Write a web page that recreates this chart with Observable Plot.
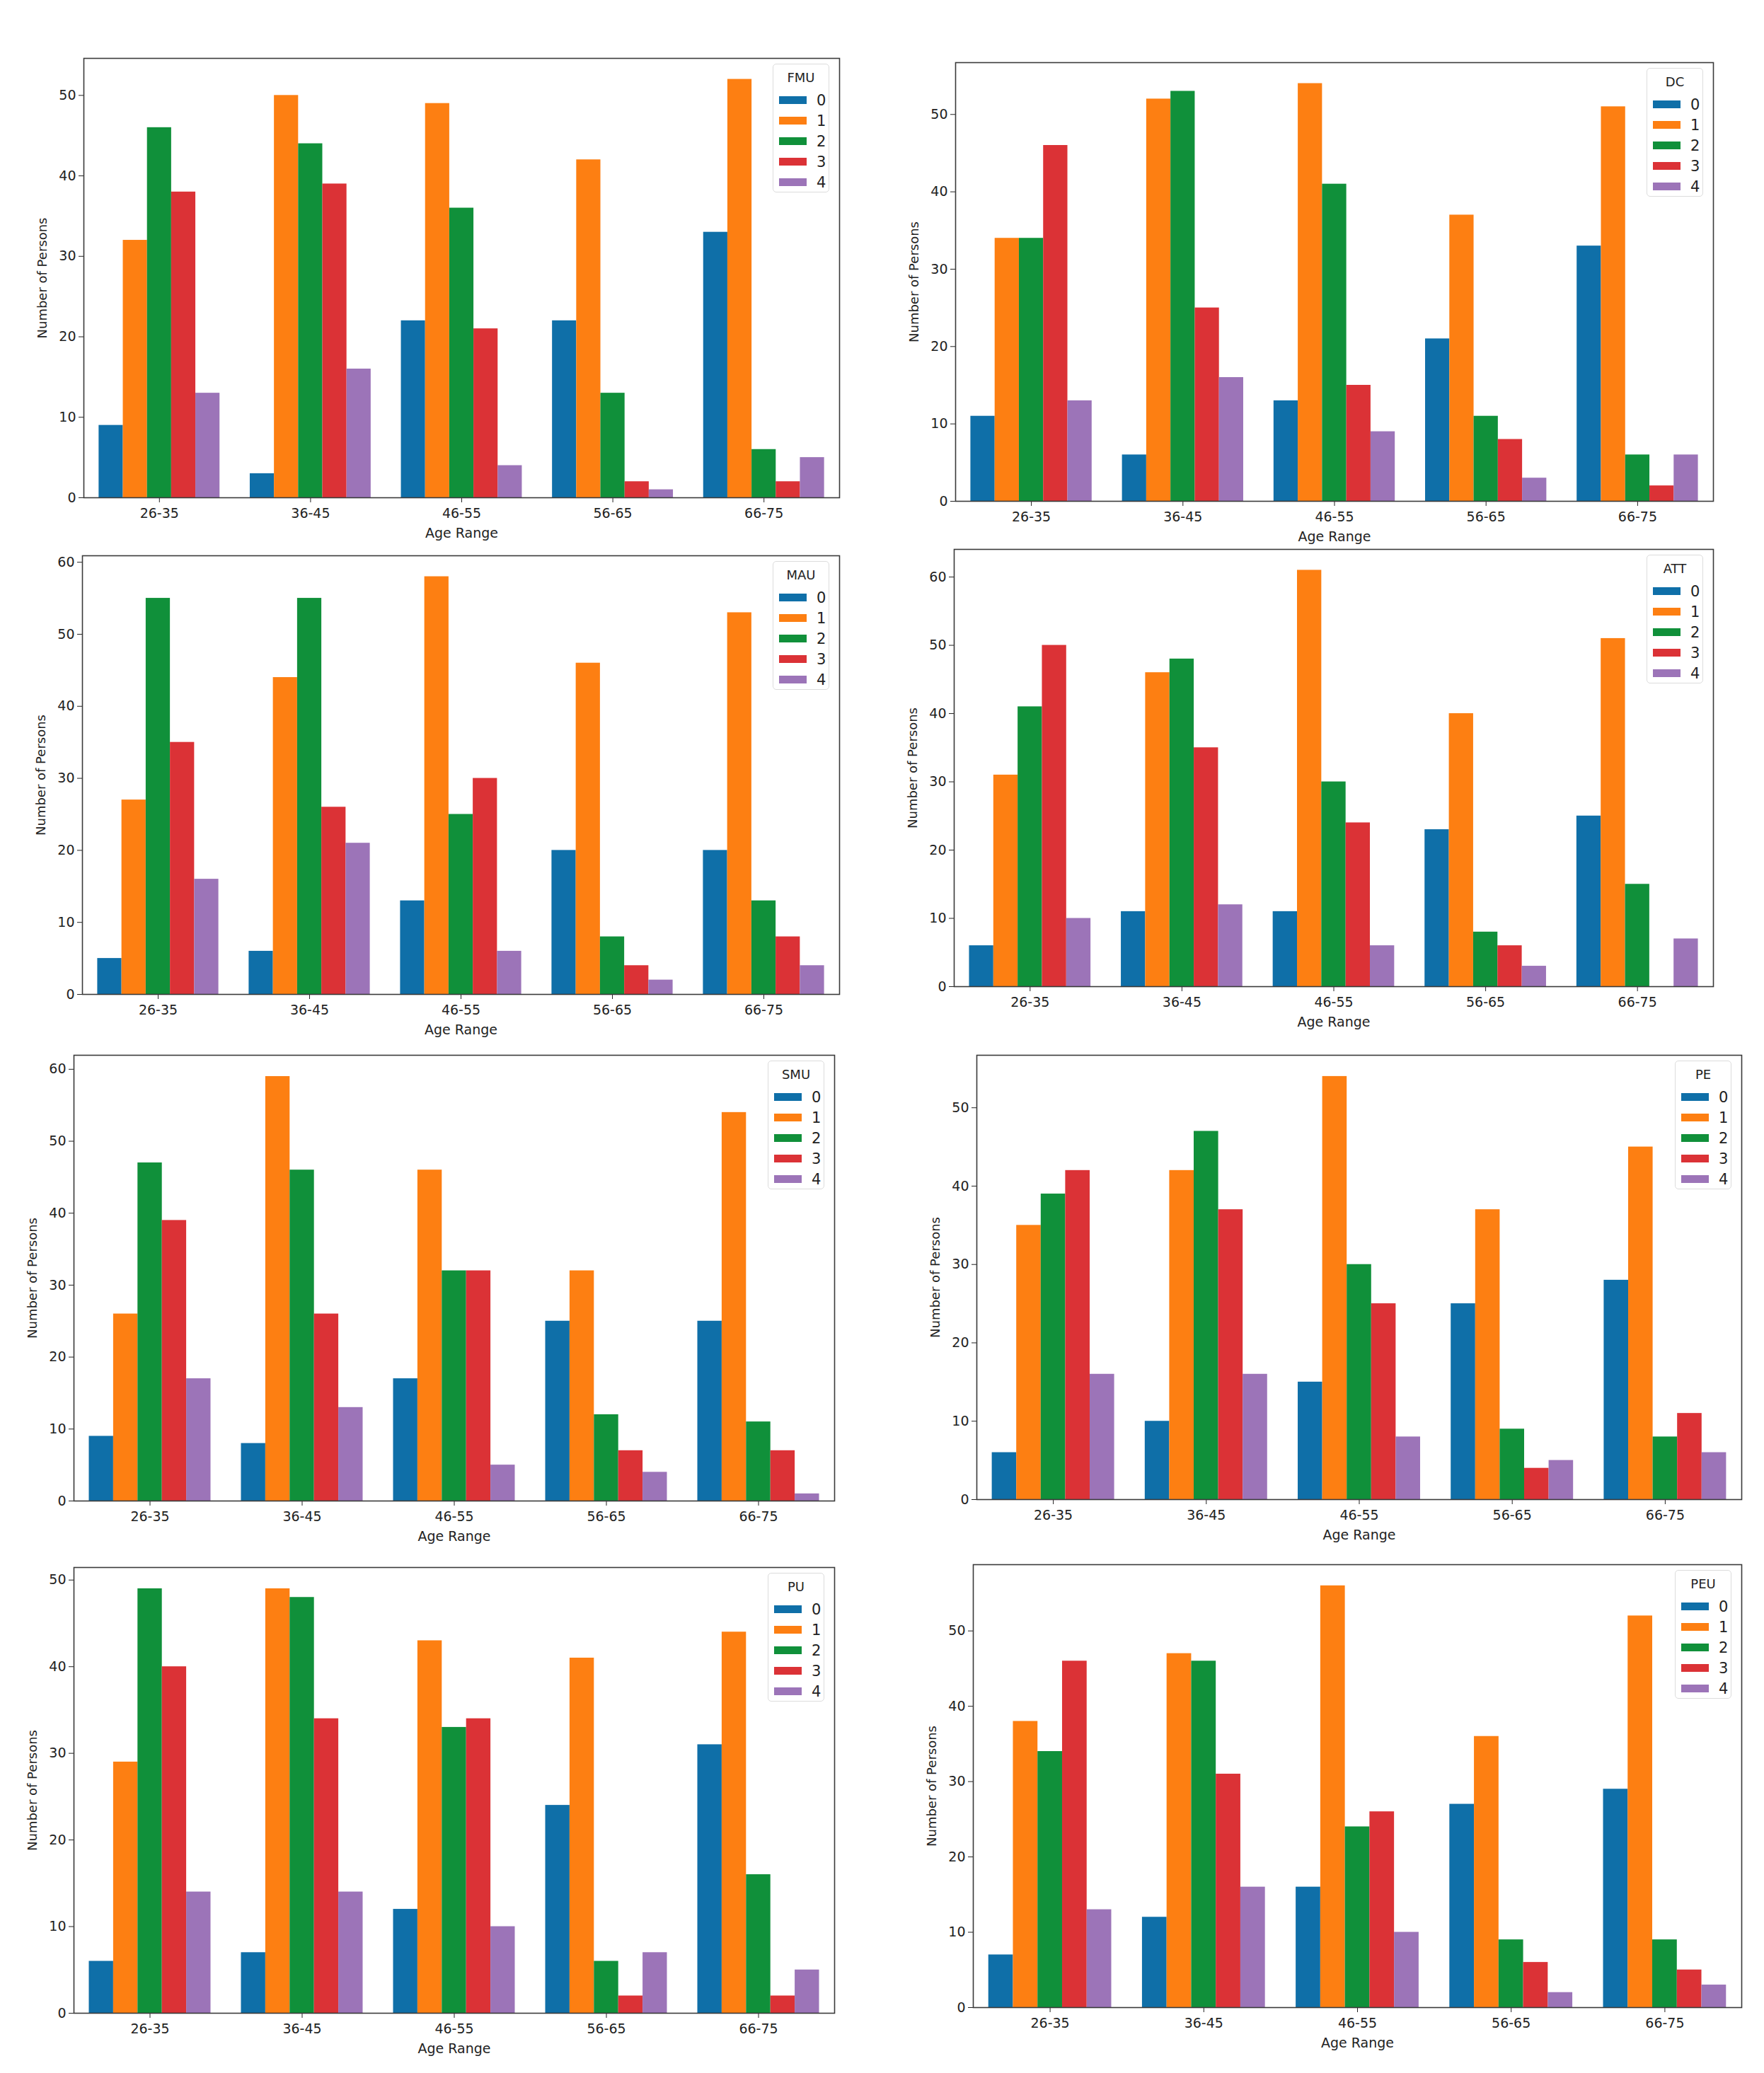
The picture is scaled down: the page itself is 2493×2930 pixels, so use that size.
<!DOCTYPE html>
<html>
<head>
<meta charset="utf-8">
<script src="https://cdn.jsdelivr.net/npm/d3@7"></script>
<script src="https://cdn.jsdelivr.net/npm/@observablehq/plot@0.6"></script>
<style>
  body { margin: 0; background: #fff; font-family: "DejaVu Sans", sans-serif; }
  #page { position: relative; width: 2493px; height: 2930px; overflow: hidden; }
  .panel { position: absolute; }
  .legend {
    position: absolute; background: #fff; border: 1.5px solid #dcdcdc; border-radius: 5px;
    font-family: "DejaVu Sans", sans-serif; color: #222; box-sizing: border-box;
  }
  .legend .title { text-align: center; font-size: 18px; line-height: 18px; margin-top: 10px; margin-bottom: 8px; }
  .legend .row { display: flex; align-items: center; height: 29px; font-size: 21px; }
  .legend .sw { width: 39px; height: 11px; margin-left: 8px; margin-right: 14px; }
</style>
</head>
<body>
<div id="page"></div>
<script>
const ages = ["26-35", "36-45", "46-55", "56-65", "66-75"];
const levels = ["0", "1", "2", "3", "4"];
const colors = ["#0f6fa8", "#fd7f12", "#10903a", "#db3236", "#9c74b8"];

// rows = age range, columns = level 0..4
const fmu = [[9, 32, 46, 38, 13], [3, 50, 44, 39, 16], [22, 49, 36, 21, 4], [22, 42, 13, 2, 1], [33, 52, 6, 2, 5]];
const dc = [[11, 34, 34, 46, 13], [6, 52, 53, 25, 16], [13, 54, 41, 15, 9], [21, 37, 11, 8, 3], [33, 51, 6, 2, 6]];
const mau = [[5, 27, 55, 35, 16], [6, 44, 55, 26, 21], [13, 58, 25, 30, 6], [20, 46, 8, 4, 2], [20, 53, 13, 8, 4]];
const att = [[6, 31, 41, 50, 10], [11, 46, 48, 35, 12], [11, 61, 30, 24, 6], [23, 40, 8, 6, 3], [25, 51, 15, 0, 7]];
const smu = [[9, 26, 47, 39, 17], [8, 59, 46, 26, 13], [17, 46, 32, 32, 5], [25, 32, 12, 7, 4], [25, 54, 11, 7, 1]];
const pe = [[6, 35, 39, 42, 16], [10, 42, 47, 37, 16], [15, 54, 30, 25, 8], [25, 37, 9, 4, 5], [28, 45, 8, 11, 6]];
const pu = [[6, 29, 49, 40, 14], [7, 49, 48, 34, 14], [12, 43, 33, 34, 10], [24, 41, 6, 2, 7], [31, 44, 16, 2, 5]];
const peu = [[7, 38, 34, 46, 13], [12, 47, 46, 31, 16], [16, 56, 24, 26, 10], [27, 36, 9, 6, 2], [29, 52, 9, 5, 3]];

// frame box of each axes in page pixels: [left, top, right, bottom]
const panels = [
  { name: "FMU", values: fmu, box: [118, 82, 1186, 703] },
  { name: "DC", values: dc, box: [1350, 88, 2421, 708] },
  { name: "MAU", values: mau, box: [116, 785, 1186, 1405] },
  { name: "ATT", values: att, box: [1348, 776, 2421, 1394] },
  { name: "SMU", values: smu, box: [104, 1491, 1179, 2121] },
  { name: "PE", values: pe, box: [1380, 1491, 2461, 2119] },
  { name: "PU", values: pu, box: [104, 2215, 1179, 2845] },
  { name: "PEU", values: peu, box: [1375, 2211, 2461, 2837] },
];

const page = document.getElementById("page");
const mL = 120, mR = 10, mT = 10, mB = 75;
const barW = 0.8 / levels.length;

const drawPanel = ({ name, values, box }) => {
  const [x0, y0, x1, y1] = box;
  const rows = values.flatMap((arr, gi) =>
    arr.map((v, li) => ({ age: ages[gi], level: levels[li], gi, li, value: v }))
  );
  const ymax = d3.max(rows, (d) => d.value) * 1.05;

  const chart = Plot.plot({
    width: x1 - x0 + mL + mR,
    height: y1 - y0 + mT + mB,
    marginLeft: mL, marginRight: mR, marginTop: mT, marginBottom: mB,
    style: { fontFamily: "DejaVu Sans, sans-serif", fontSize: "19px", color: "#222", background: "transparent" },
    x: {
      domain: [-0.5, 4.5], ticks: [0, 1, 2, 3, 4], tickFormat: (i) => ages[i],
      tickSize: 7, tickPadding: 8, label: null,
    },
    y: { domain: [0, ymax], ticks: d3.range(0, ymax, 10), tickSize: 7, tickPadding: 4, label: null },
    color: { domain: levels, range: colors },
    marks: [
      Plot.rectY(rows, {
        x1: (d) => d.gi - 0.4 + d.li * barW,
        x2: (d) => d.gi - 0.4 + (d.li + 1) * barW,
        y: "value",
        fill: "level",
      }),
      Plot.frame({ stroke: "#3a3a3a", strokeWidth: 1.6 }),
      Plot.text(["Number of Persons"], {
        frameAnchor: "left", dx: -58, rotate: -90, textAnchor: "middle", lineAnchor: "middle",
        fontSize: 18, fill: "#222",
      }),
      Plot.text(["Age Range"], {
        frameAnchor: "bottom", dy: 50, textAnchor: "middle", lineAnchor: "middle",
        fontSize: 19, fill: "#222",
      }),
    ],
  });
  chart.classList.add("panel");
  chart.style.left = x0 - mL + "px";
  chart.style.top = y0 - mT + "px";
  page.appendChild(chart);

  // matplotlib style legend in the upper right corner
  const lg = document.createElement("div");
  lg.className = "legend";
  lg.style.width = "80px";
  lg.style.height = "182px";
  lg.style.left = x1 - 14 - 80 + "px";
  lg.style.top = y0 + 8 + "px";
  const t = document.createElement("div");
  t.className = "title";
  t.textContent = name;
  lg.appendChild(t);
  levels.forEach((lv, i) => {
    const r = document.createElement("div");
    r.className = "row";
    const sw = document.createElement("span");
    sw.className = "sw";
    sw.style.background = colors[i];
    const lab = document.createElement("span");
    lab.textContent = lv;
    r.appendChild(sw);
    r.appendChild(lab);
    lg.appendChild(r);
  });
  page.appendChild(lg);
};

panels.forEach(drawPanel);
</script>
</body>
</html>
